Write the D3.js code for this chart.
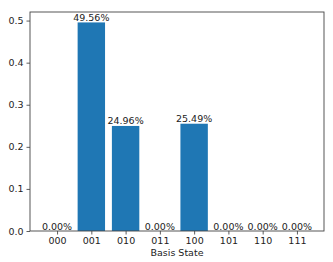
<!DOCTYPE html>
<html>
<head>
<meta charset="utf-8">
<script src="https://cdn.jsdelivr.net/npm/d3@7"></script>
<style>
  body { margin: 0; background: #fff; }
  svg text { font-family: "DejaVu Sans", sans-serif; fill: #222; }
</style>
</head>
<body>
<svg id="chart" width="333" height="262"></svg>
<script>
// basis states and measured probabilities
var states = ["000", "001", "010", "011", "100", "101", "110", "111"];
var probs = [0.0, 0.4956, 0.2496, 0.0, 0.2549, 0.0, 0.0, 0.0];
var yTicks = [0.0, 0.1, 0.2, 0.3, 0.4, 0.5];

var svg = d3.select("#chart");
var mLeft = 30, mRight = 324, mTop = 12, mBottom = 231;
var n = states.length;

// matplotlib style limits: bars of width 0.8 plus 5% margin
var x = d3.scaleLinear()
  .domain([-0.4 - 0.05 * (n - 0.2), n - 0.6 + 0.05 * (n - 0.2)])
  .range([mLeft, mRight]);
var y = d3.scaleLinear()
  .domain([0, d3.max(probs) * 1.05])
  .range([mBottom, mTop]);

var g = svg.append("g");

g.selectAll("rect.bar")
  .data(probs)
  .enter().append("rect")
    .attr("class", "bar")
    .attr("x", function(d, i) { return x(i - 0.4); })
    .attr("width", function(d, i) { return x(i + 0.4) - x(i - 0.4); })
    .attr("y", function(d) { return y(d); })
    .attr("height", function(d) { return mBottom - y(d); })
    .attr("fill", "#1f77b4");

g.selectAll("text.pct")
  .data(probs)
  .enter().append("text")
    .attr("class", "pct")
    .attr("x", function(d, i) { return x(i); })
    .attr("y", function(d) { return y(d) - 1.5; })
    .attr("text-anchor", "middle")
    .style("font-size", "9.5px")
    .text(function(d) { return (d * 100).toFixed(2) + "%"; });

// axes
var xAxis = d3.axisBottom(x)
  .tickValues(d3.range(n))
  .tickFormat(function(i) { return states[i]; })
  .tickSize(3.5).tickPadding(3);
var yAxis = d3.axisLeft(y)
  .tickValues(yTicks)
  .tickFormat(d3.format(".1f"))
  .tickSize(3.5).tickPadding(3);

var xa = svg.append("g").attr("transform", "translate(0," + mBottom + ")").call(xAxis);
var ya = svg.append("g").attr("transform", "translate(" + mLeft + ",0)").call(yAxis);
[xa, ya].forEach(function(a) {
  a.select(".domain").remove();
  a.selectAll("line").attr("stroke", "#333").attr("stroke-width", 0.8);
  a.selectAll("text").style("font-size", "9.5px").attr("fill", "#222")
    .style("font-family", "DejaVu Sans, sans-serif");
});

// frame
svg.append("rect")
  .attr("x", mLeft).attr("y", mTop)
  .attr("width", mRight - mLeft).attr("height", mBottom - mTop)
  .attr("fill", "none").attr("stroke", "#444").attr("stroke-width", 0.9);

svg.append("text")
  .attr("x", (mLeft + mRight) / 2)
  .attr("y", 256)
  .attr("text-anchor", "middle")
  .style("font-size", "9.5px")
  .text("Basis State");
</script>
</body>
</html>
